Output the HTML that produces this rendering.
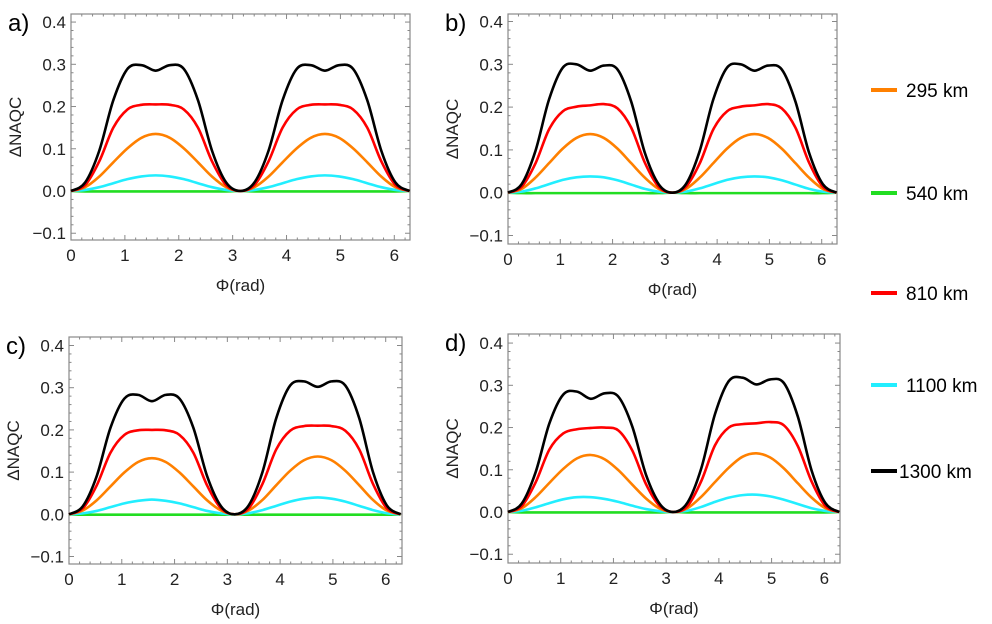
<!DOCTYPE html>
<html><head><meta charset="utf-8"><style>
html,body{margin:0;padding:0;background:#fff;}
svg{display:block;font-family:"Liberation Sans",sans-serif;}
</style></head><body>
<svg id="fig" width="992" height="624" viewBox="0 0 992 624"></svg>
<script>
// phi grid (degrees, step 15) 0..360
const phiDeg = [0,15,30,45,60,75,90,105,120,135,150,165,180,195,210,225,240,255,270,285,300,315,330,345,360];
const yTicks = [-0.1,0.0,0.1,0.2,0.3,0.4];
const yTickLabels = ["\u22120.1","0.0","0.1","0.2","0.3","0.4"];
const xTicks = [0,1,2,3,4,5,6];
const seriesNames = ["295 km","540 km","810 km","1100 km","1300 km"];
const seriesColors = ["#ff8000","#22dd22","#ff0000","#22eeff","#000000"];

// panel a
const aOrange = [0,0.009,0.034,0.068,0.101,0.126,0.135,0.126,0.101,0.068,0.034,0.009,0,0.009,0.034,0.068,0.101,0.126,0.135,0.126,0.101,0.068,0.034,0.009,0];
const aGreen  = [0,-0.001,-0.001,-0.001,-0.001,-0.001,-0.001,-0.001,-0.001,-0.001,-0.001,-0.001,0,-0.001,-0.001,-0.001,-0.001,-0.001,-0.001,-0.001,-0.001,-0.001,-0.001,-0.001,0];
const aRed    = [0,0.014,0.07,0.15,0.193,0.204,0.205,0.204,0.193,0.15,0.07,0.014,0,0.014,0.07,0.15,0.193,0.204,0.205,0.204,0.193,0.15,0.07,0.014,0];
const aCyan   = [0,0.0025,0.009,0.0185,0.028,0.0345,0.037,0.0345,0.028,0.0185,0.009,0.0025,0,0.0025,0.009,0.0185,0.028,0.0345,0.037,0.0345,0.028,0.0185,0.009,0.0025,0];
const aBlack  = [0,0.02,0.095,0.215,0.289,0.298,0.285,0.298,0.289,0.215,0.095,0.02,0,0.02,0.095,0.215,0.289,0.298,0.285,0.298,0.289,0.215,0.095,0.02,0];
// panel b
const bOrange = [0,0.009,0.035,0.069,0.103,0.128,0.137,0.128,0.103,0.069,0.035,0.009,0,0.009,0.035,0.069,0.103,0.128,0.137,0.128,0.103,0.069,0.035,0.009,0];
const bGreen  = aGreen.slice();
const bRed    = [0,0.014,0.068,0.148,0.19,0.201,0.204,0.207,0.197,0.152,0.07,0.014,0,0.014,0.068,0.148,0.19,0.201,0.204,0.207,0.197,0.152,0.07,0.014,0];
const bCyan   = [0,0.0025,0.01,0.02,0.03,0.036,0.038,0.036,0.029,0.019,0.009,0.0025,0,0.0025,0.01,0.02,0.03,0.036,0.038,0.036,0.029,0.019,0.009,0.0025,0];
const bBlack  = [0,0.02,0.097,0.218,0.292,0.3,0.285,0.297,0.288,0.213,0.093,0.02,0,0.02,0.097,0.218,0.292,0.3,0.285,0.297,0.288,0.213,0.093,0.02,0];
// panel c
const cOrange = [0,0.009,0.033,0.066,0.099,0.124,0.133,0.124,0.099,0.066,0.033,0.009,0,0.009,0.034,0.069,0.103,0.128,0.137,0.128,0.103,0.069,0.034,0.009,0];
const cGreen  = aGreen.slice();
const cRed    = [0,0.014,0.068,0.146,0.188,0.199,0.2,0.199,0.188,0.146,0.068,0.014,0,0.014,0.072,0.154,0.198,0.209,0.21,0.209,0.198,0.154,0.072,0.014,0];
const cCyan   = [0,0.0022,0.008,0.017,0.026,0.032,0.035,0.032,0.026,0.017,0.008,0.0022,0,0.0025,0.01,0.02,0.03,0.037,0.04,0.037,0.03,0.02,0.01,0.0025,0];
const cBlack  = [0,0.019,0.09,0.205,0.274,0.283,0.268,0.283,0.274,0.205,0.09,0.019,0,0.021,0.1,0.228,0.305,0.315,0.302,0.315,0.305,0.228,0.1,0.021,0];
// panel d
const dOrange = [0,0.009,0.035,0.069,0.102,0.127,0.135,0.125,0.099,0.065,0.032,0.008,0,0.009,0.036,0.071,0.105,0.131,0.139,0.129,0.103,0.068,0.034,0.009,0];
const dGreen  = aGreen.slice();
const dRed    = [0,0.014,0.07,0.148,0.186,0.196,0.199,0.2,0.193,0.146,0.066,0.014,0,0.014,0.073,0.158,0.2,0.208,0.21,0.213,0.205,0.156,0.072,0.014,0];
const dCyan   = [0,0.003,0.011,0.021,0.03,0.035,0.035,0.031,0.024,0.015,0.007,0.002,0,0.003,0.012,0.024,0.034,0.04,0.041,0.037,0.029,0.019,0.009,0.0025,0];
const dBlack  = [0,0.02,0.094,0.21,0.278,0.285,0.268,0.281,0.273,0.203,0.088,0.019,0,0.022,0.103,0.232,0.31,0.318,0.302,0.314,0.305,0.226,0.098,0.021,0];

const panels = [
 {id:"a", label:"a)", L:71, T:14, R:410, B:240, x6:394.3, y0:191, y3:64.3, series:[aOrange,aGreen,aRed,aCyan,aBlack]},
 {id:"b", label:"b)", L:508, T:14, R:837, B:244, x6:821.7, y0:192.7, y3:64.3, series:[bOrange,bGreen,bRed,bCyan,bBlack]},
 {id:"c", label:"c)", L:69, T:337, R:402, B:564, x6:385.7, y0:514.3, y3:387.7, series:[cOrange,cGreen,cRed,cCyan,cBlack]},
 {id:"d", label:"d)", L:508, T:334, R:840, B:563, x6:824.3, y0:512, y3:385.3, series:[dOrange,dGreen,dRed,dCyan,dBlack]}
];
const legendY = [90,193,293,385,471];

const NS="http://www.w3.org/2000/svg";
const svg=document.getElementById("fig");
function mk(tag,attrs,parent){const e=document.createElementNS(NS,tag);for(const k in attrs)e.setAttribute(k,attrs[k]);(parent||svg).appendChild(e);return e;}

panels.forEach(p=>{
  const g=mk("g",{});
  
  
  const xs=v=>p.L+(p.x6-p.L)*v/6;
  const ys=v=>p.y0-(p.y0-p.y3)*v/0.3;
  const fr=mk("rect",{x:p.L,y:p.T,width:p.R-p.L,height:p.B-p.T,fill:"none",stroke:"#888","stroke-width":1.2},g);
  
  
  for(let i=-5;i<=20;i++){
    const v=i*0.02; const y=ys(v); if(y<p.T||y>p.B)continue;
    const major=(i%5===0); const len=major?5:2.5;
    mk("line",{x1:p.L,y1:y,x2:p.L+len,y2:y,stroke:"#888","stroke-width":1},g);
    mk("line",{x1:p.R,y1:y,x2:p.R-len,y2:y,stroke:"#888","stroke-width":1},g);
  }
  yTicks.forEach((v,i)=>{
    const t=mk("text",{x:p.L-5,y:ys(v)+6,"text-anchor":"end","font-size":17,fill:"#222"},g);
    t.textContent=yTickLabels[i];
    
    
  });
  for(let i=0;i<=31;i++){
    const v=i*0.2; const x=xs(v); if(x>p.R)continue;
    const major=(i%5===0); const len=major?5:2.5;
    mk("line",{x1:x,y1:p.B,x2:x,y2:p.B-len,stroke:"#888","stroke-width":1},g);
    mk("line",{x1:x,y1:p.T,x2:x,y2:p.T+len,stroke:"#888","stroke-width":1},g);
  }
  xTicks.forEach(v=>{
    const t=mk("text",{x:xs(v),y:p.B+21,"text-anchor":"middle","font-size":17,fill:"#222"},g);
    t.textContent=String(v);
    
    
  });
  const cx=(p.L+p.R)/2;
  const xt=mk("text",{x:cx,y:p.B+51,"text-anchor":"middle","font-size":17,fill:"#222"},g);
  xt.textContent="\u03A6(rad)";
  
  
  const cy=(p.T+p.B)/2;
  const yt=mk("text",{x:p.L-50,y:cy,"text-anchor":"middle","font-size":17,fill:"#222",transform:"rotate(-90 "+(p.L-50)+" "+cy+")"},g);
  yt.textContent="\u0394NAQC";
  
  
  const pl=mk("text",{x:p.L-63,y:p.T+17,"font-size":24,fill:"#000"},g);
  pl.textContent=p.label;
  
  
  const order=[1,3,0,2,4];
  order.forEach(si=>{
    const vals=p.series[si];
    const pts=vals.map((v,i)=>[xs(phiDeg[i]*Math.PI/180),ys(v)]);
    let d="M"+pts[0][0].toFixed(2)+","+pts[0][1].toFixed(2);
    for(let i=0;i<pts.length-1;i++){
      const p0=pts[Math.max(0,i-1)],p1=pts[i],p2=pts[i+1],p3=pts[Math.min(pts.length-1,i+2)];
      const c1=[p1[0]+(p2[0]-p0[0])/6,p1[1]+(p2[1]-p0[1])/6];
      const c2=[p2[0]-(p3[0]-p1[0])/6,p2[1]-(p3[1]-p1[1])/6];
      d+=" C"+c1[0].toFixed(2)+","+c1[1].toFixed(2)+" "+c2[0].toFixed(2)+","+c2[1].toFixed(2)+" "+p2[0].toFixed(2)+","+p2[1].toFixed(2);
    }
    const path=mk("path",{d:d,fill:"none",stroke:seriesColors[si],"stroke-width":2.6,"stroke-linejoin":"round"},g);
    
    
  });
});
seriesNames.forEach((n,i)=>{
  const g=mk("g",{});
  
  
  mk("line",{x1:871,y1:legendY[i],x2:897,y2:legendY[i],stroke:seriesColors[i],"stroke-width":4},g);
  const t=mk("text",{x:i===4?899:906,y:legendY[i]+7,"font-size":19,fill:"#000"},g);
  t.textContent=n;
});
</script>
</body></html>
